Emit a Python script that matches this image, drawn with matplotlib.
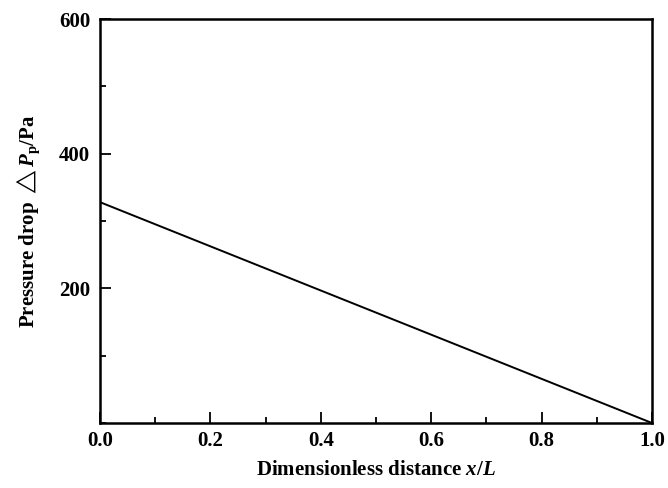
import numpy as np
import matplotlib.pyplot as plt
from matplotlib.ticker import MultipleLocator

plt.rcParams['font.family'] = ['Liberation Serif', 'DejaVu Serif']
plt.rcParams['mathtext.fontset'] = 'custom'
plt.rcParams['mathtext.it'] = 'Liberation Serif:italic:bold'
plt.rcParams['mathtext.rm'] = 'Liberation Serif:bold'

# data
x_pos = [0.0, 1.0]
pressure_drop = [328, 0]

fig = plt.figure(figsize=(6.68, 4.88), dpi=100)
ax = fig.add_axes([0.1497, 0.1332, 0.8263, 0.8278])

ax.plot(x_pos, pressure_drop, color='black', linewidth=1.4)

ax.set_xlim(0, 1.0)
ax.set_ylim(0, 600)
ax.xaxis.set_major_locator(MultipleLocator(0.2))
ax.xaxis.set_minor_locator(MultipleLocator(0.1))
ax.set_yticks([200, 400, 600])
ax.yaxis.set_minor_locator(MultipleLocator(100))
ax.xaxis.set_major_formatter(plt.FormatStrFormatter('%.1f'))

ax.tick_params(which='both', direction='in', top=False, right=False, width=1.3)
ax.tick_params(which='major', length=8, labelsize=15)
ax.tick_params(axis='x', which='major', pad=6)
ax.tick_params(axis='y', which='major', pad=7)
ax.tick_params(which='minor', length=4)
for lab in ax.get_xticklabels() + ax.get_yticklabels():
    lab.set_fontweight('bold')
for s in ax.spines.values():
    s.set_linewidth(1.8)

ax.set_xlabel('Dimensionless distance $x$/$L$', fontsize=15, fontweight='bold', labelpad=6)
ax.set_ylabel(r'Pressure drop $\triangle P_{\rm p}$/Pa', fontsize=15, fontweight='bold', labelpad=12)

fig.savefig('out.png', dpi=100)
